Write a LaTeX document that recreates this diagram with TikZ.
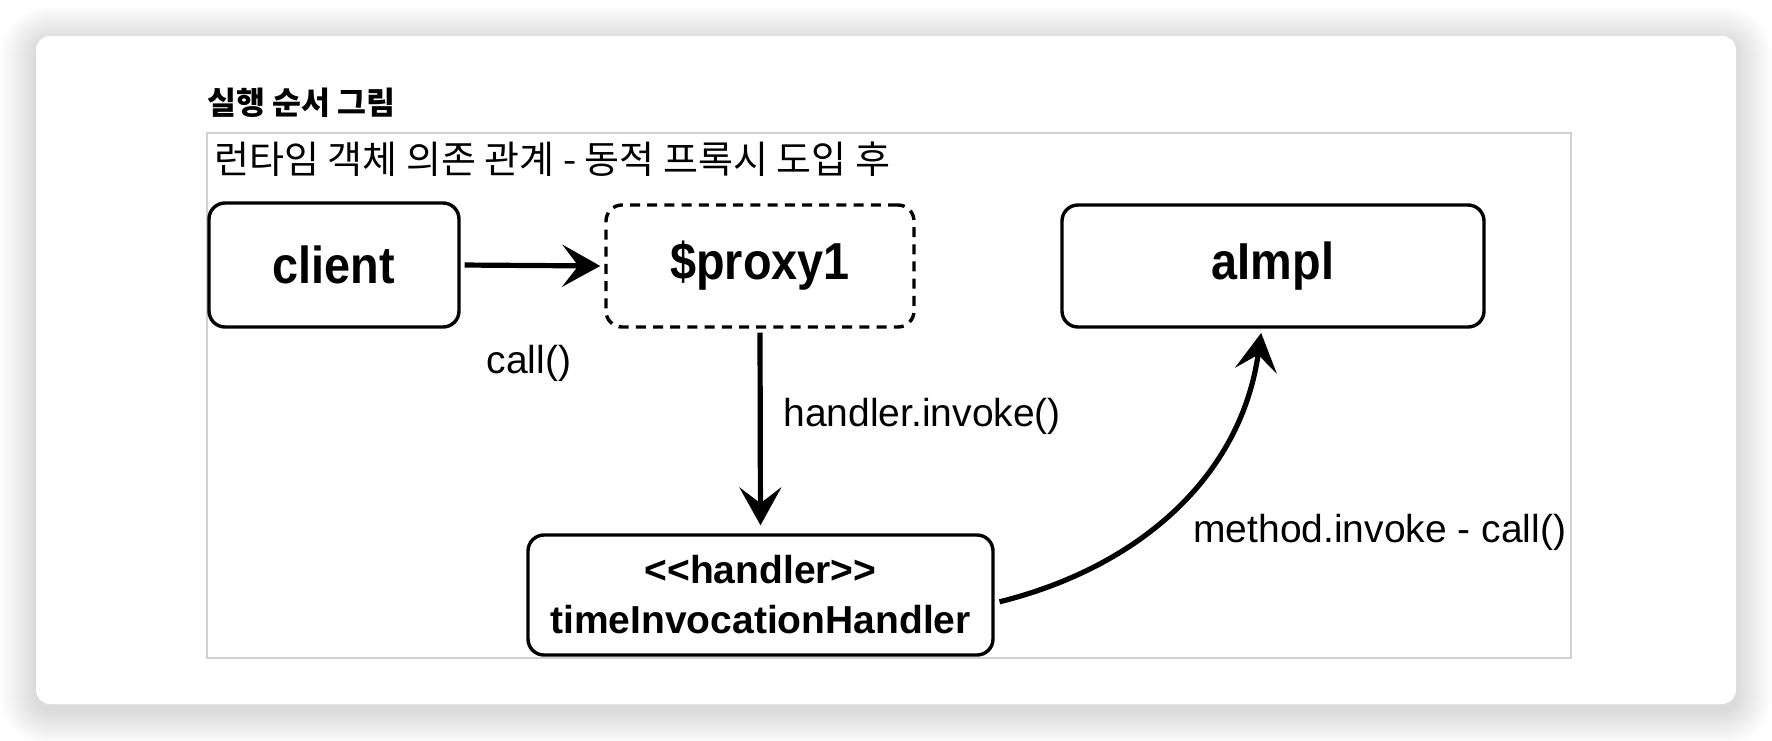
\documentclass[tikz,border=0pt]{standalone}
\usepackage{fontspec}
\setmainfont{Liberation Sans}
\newfontfamily\kr{Noto Sans CJK KR}
\newfontfamily\boxfont[FakeStretch=0.9]{Liberation Sans}
\usetikzlibrary{arrows.meta}
\tikzset{
  obj/.style={draw, line width=1.7pt, rounded corners=8pt, align=center, inner sep=0pt},
  objtext/.style={font=\boxfont\bfseries\fontsize{26}{30}\selectfont},
  lbl/.style={font=\fontsize{19.5}{23}\selectfont, inner sep=0pt},
  conn/.style={line width=2.6pt, -{Stealth[length=19pt,width=21pt,inset=8pt]}},
}
\begin{document}
\begin{tikzpicture}[x=0.5pt,y=-0.5pt]
\useasboundingbox (0,0) rectangle (1772,740);
\fill[white] (0,0) rectangle (1772,740);
% card shadow
\foreach \i in {1,...,36}{
  \pgfmathsetmacro\rr{7+0.5*\i}
  \fill[black,opacity=0.0045,rounded corners=\rr pt] (36-\i,42-\i) rectangle (1736+\i,710+\i);
}
\fill[white,rounded corners=7pt] (36,36) rectangle (1736,704);
% title and frame
\node[anchor=west, inner sep=0pt, font=\kr\bfseries\fontsize{15.7}{18}\selectfont] (title) at (207,103) {실행 순서 그림};
\draw[black!18, line width=1pt] (207,133) rectangle (1571,658);
\node[anchor=west, inner sep=0pt, font=\kr\fontsize{19}{22}\selectfont] (sub) at (214,159) {런타임 객체 의존 관계 - 동적 프록시 도입 후};
% objects
\node[obj, objtext, minimum width=125pt, minimum height=62pt] (client) at (334,265) {client};
\node[obj, objtext, dash pattern=on 5pt off 3.6pt, minimum width=154pt, minimum height=61pt] (proxy) at (760,266) {\$proxy1};
\node[obj, objtext, minimum width=211pt, minimum height=61pt] (aimpl) at (1273,266) {aImpl};
\node[obj, font=\bfseries\fontsize{19.5}{25}\selectfont, minimum width=232.5pt, minimum height=60pt] (handler) at (760.5,595) {<{}<handler>{}>\\timeInvocationHandler};
% connectors
\draw[conn, shorten <=2pt, shorten >=2pt] (client.east) -- (proxy.west);
\draw[conn, shorten <=2pt, shorten >=4pt] (proxy.south) -- (handler.north);
\coordinate (aimplin) at (1262,327);
\draw[conn, shorten <=2.5pt, shorten >=3pt] ([yshift=-4]handler.east) to[out=14, in=-98] (aimplin);
% labels
\node[lbl, anchor=base] (callA) at (529,373) {call()};
\node[lbl, anchor=base west] (hinv) at (783,426) {handler.invoke()};
\node[lbl, anchor=base west] (minv) at (1193,542) {method.invoke - call()};
\end{tikzpicture}
\end{document}
